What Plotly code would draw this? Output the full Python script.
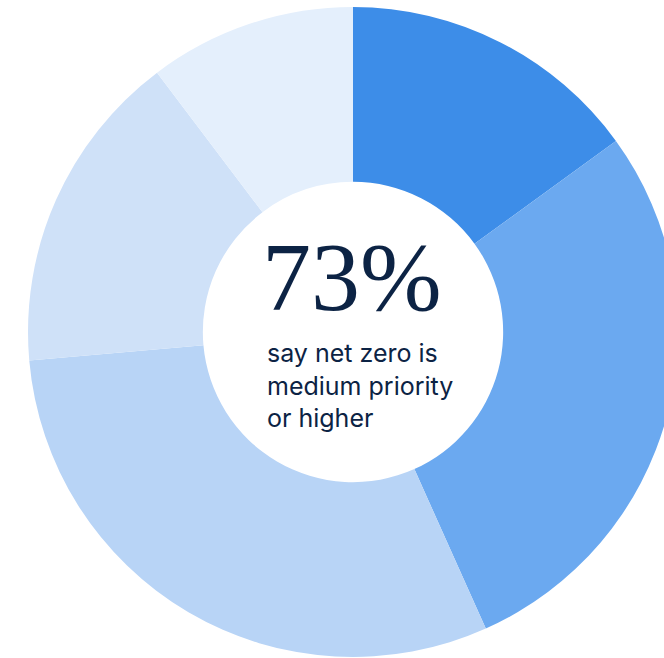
import plotly.graph_objects as go

# share of respondents per priority level (clockwise from 12 o'clock)
levels = ["Top priority", "High priority", "Medium priority", "Low priority", "Not a priority"]
shares = [15.0, 28.3, 30.3, 16.1, 10.3]
colors = ["#3d8de8", "#6ba9f0", "#b8d4f6", "#cfe1f8", "#e4effc"]

headline = "73%"
subtitle = "say net zero is<br>medium priority<br>or higher"

fig = go.Figure(go.Pie(
    labels=levels,
    values=shares,
    sort=False,
    direction="clockwise",
    rotation=0,
    hole=0.462,
    marker=dict(colors=colors, line=dict(width=0)),
    textinfo="none",
    hoverinfo="label+percent",
    showlegend=False,
))

fig.add_annotation(
    text=headline, xref="paper", yref="paper", x=0.357, y=0.585,
    xanchor="left", yanchor="middle", showarrow=False,
    font=dict(family="Liberation Serif", size=98, color="#0c2344"),
)
fig.add_annotation(
    text=subtitle, xref="paper", yref="paper", x=0.3646, y=0.417,
    xanchor="left", yanchor="middle", align="left", showarrow=False,
    font=dict(family="Inter", size=25, color="#0c2344"),
)

fig.update_layout(
    width=706, height=658,
    margin=dict(l=28, r=28, t=7, b=1),
    paper_bgcolor="white",
)

fig.write_html(
    "out.html",
    config={"displayModeBar": False},
    post_script="document.body.style.margin='0';document.body.style.overflow='hidden';",
)
